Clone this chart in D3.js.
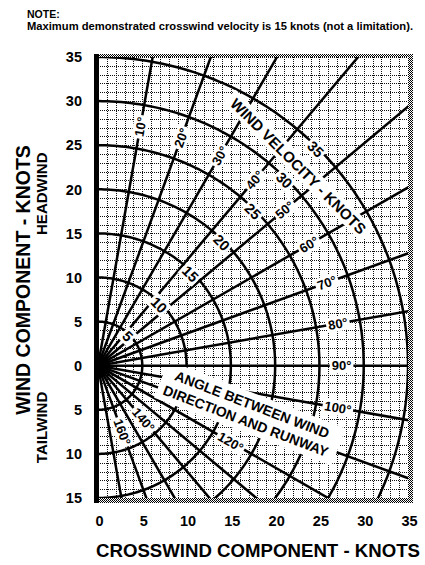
<!DOCTYPE html>
<html><head><meta charset="utf-8">
<script src="https://cdn.jsdelivr.net/npm/d3@7"></script>
<style>
body{margin:0;background:#fff}
svg{display:block}
text{font-family:"Liberation Sans",Arial,Helvetica,sans-serif;font-weight:bold;fill:#000}
</style>
</head><body>
<svg id="c" width="425" height="565"></svg>
<script>
// ---- data ----
const xTickValues = [0, 5, 10, 15, 20, 25, 30, 35];
const xTickLabels = ["0", "5", "10", "15", "20", "25", "30", "35"];
const yTickValues = [35, 30, 25, 20, 15, 10, 5, 0, -5, -10, -15];
const yTickLabels = ["35", "30", "25", "20", "15", "10", "5", "0", "5", "10", "15"];
const windSpeeds = [5, 10, 15, 20, 25, 30, 35];
const radialAngles = [10, 20, 30, 40, 50, 60, 70, 80, 90, 100, 110, 120, 130, 140, 150, 160, 170];
const angleLabelValues = [10, 20, 30, 40, 50, 60, 70, 80, 90, 100, 120, 140, 160];
const noteLines = ["NOTE:", "Maximum demonstrated crosswind velocity is 15 knots (not a limitation)."];
const velocityTitle = "WIND VELOCITY - KNOTS";
const angleTitleLines = ["ANGLE BETWEEN WIND", "DIRECTION AND RUNWAY"];
const xTitle = "CROSSWIND COMPONENT - KNOTS";
const yTitle = "WIND COMPONENT - KNOTS";
const headLabel = "HEADWIND", tailLabel = "TAILWIND";

// ---- layout ----
const svg = d3.select("#c");
const x = d3.scaleLinear().domain([0, 35]).range([98, 408]);
const y = d3.scaleLinear().domain([-15, 35]).range([498, 57]);
const rad = a => a * Math.PI / 180;
const polar = (r, a) => [x(r * Math.sin(rad(a))), y(r * Math.cos(rad(a)))];

const defs = svg.append("defs");
defs.append("clipPath").attr("id", "plot").append("rect")
  .attr("x", x(0)).attr("y", y(35)).attr("width", x(35) - x(0)).attr("height", y(-15) - y(35));
defs.append("clipPath").attr("id", "below0").append("rect")
  .attr("x", x(0)).attr("y", y(0) + 1.3).attr("width", x(35) - x(0)).attr("height", y(-15) - y(0));
const pat = defs.append("pattern").attr("id", "hatch").attr("width", 2).attr("height", 2)
  .attr("patternUnits", "userSpaceOnUse");
pat.append("rect").attr("width", 2).attr("height", 2).attr("fill", "#fff");
pat.append("rect").attr("width", 1).attr("height", 1).attr("fill", "#000");
pat.append("rect").attr("x", 1).attr("y", 1).attr("width", 1).attr("height", 1).attr("fill", "#000");

const plot = svg.append("g").attr("clip-path", "url(#plot)");

// grid (1 knot)
const gx = d3.range(0, 36), gy = d3.range(-15, 36);
const grid = plot.append("g").attr("stroke", "#111").attr("stroke-width", 1)
  .attr("stroke-dasharray", "1,1").attr("shape-rendering", "crispEdges");
grid.selectAll("line.v").data(gx).join("line").attr("class", "v")
  .attr("x1", d => Math.round(x(d)) + 0.5).attr("x2", d => Math.round(x(d)) + 0.5)
  .attr("y1", y(35)).attr("y2", y(-15));
grid.selectAll("line.h").data(gy).join("line").attr("class", "h")
  .attr("y1", d => Math.round(y(d)) + 0.5).attr("y2", d => Math.round(y(d)) + 0.5)
  .attr("x1", x(0)).attr("x2", x(35));

// arcs (wind velocity)
const arcSteps = d3.range(0, 180.5, 1);
const lineGen = d3.line();
plot.append("g").selectAll("path").data(windSpeeds).join("path")
  .attr("d", r => lineGen(arcSteps.map(a => polar(r, a))))
  .attr("fill", "none").attr("stroke", "#000").attr("stroke-width", 2.5);

// radials (angle)
plot.append("g").selectAll("line").data(radialAngles).join("line")
  .attr("x1", x(0)).attr("y1", y(0))
  .attr("x2", a => polar(60, a)[0]).attr("y2", a => polar(60, a)[1])
  .attr("stroke", "#000").attr("stroke-width", 2.5);

// labels with white backgrounds
const labels = svg.append("g");
function addLabel(parent, cx, cy, rot, str, size, padX, padY) {
  const g = parent.append("g").attr("transform", `translate(${cx},${cy}) rotate(${rot})`);
  const rect = g.append("rect").attr("fill", "#fff");
  const t = g.append("text").attr("text-anchor", "middle").attr("dy", "0.36em")
    .attr("font-size", size).text(str);
  const b = t.node().getBBox();
  rect.attr("x", b.x - padX).attr("y", b.y - padY + 1)
    .attr("width", b.width + 2 * padX).attr("height", b.height + 2 * padY - 2);
  return g;
}

// angle label radii (layout)
const angleLabelR = a => a <= 100 ? 27.5 : (a === 120 ? 17.3 : 8.0);
angleLabelValues.forEach(a => {
  const [px, py] = polar(angleLabelR(a), a);
  addLabel(labels, px, py, a - 90, a + "°", 13, 2, 1);
});
windSpeeds.forEach(r => {
  const [px, py] = polar(r - 0.25, 45);
  addLabel(labels, px, py, 45, String(r), 14.5, 2, 1);
});
{
  const [px, py] = polar(32, 45);
  addLabel(labels, px, py, 45, velocityTitle, 15, 6, 2);
}

// angle title box
{
  const cx = x(17.05), cy = y(-5.33);
  const box = svg.append("g").attr("clip-path", "url(#below0)")
    .append("g").attr("transform", `translate(${cx},${cy}) rotate(21)`);
  box.append("rect").attr("x", -94).attr("y", -20).attr("width", 190).attr("height", 40).attr("fill", "#fff");
  box.selectAll("text").data(angleTitleLines).join("text")
    .attr("text-anchor", "middle").attr("font-size", 14).attr("dy", "0.36em")
    .attr("y", (d, i) => (i - 0.5) * 17.6).text(d => d);
}

// borders
const bord = svg.append("g").attr("shape-rendering", "crispEdges");
bord.append("rect").attr("x", x(0) - 4).attr("y", y(35) - 3.5).attr("width", x(35) + 5 - x(0) + 4).attr("height", 3.5).attr("fill", "url(#hatch)");
bord.append("rect").attr("x", x(35)).attr("y", y(35) - 3.5).attr("width", 5).attr("height", y(-15) - y(35) + 8.5).attr("fill", "url(#hatch)");
bord.append("rect").attr("x", x(0) - 4).attr("y", y(-15)).attr("width", x(35) + 5 - x(0) + 4).attr("height", 5).attr("fill", "url(#hatch)");
bord.append("rect").attr("x", x(0) - 4).attr("y", y(35) - 3.5).attr("width", 5).attr("height", y(-15) - y(35) + 8.5).attr("fill", "#000");

// axis tick labels
svg.append("g").selectAll("text").data(yTickValues).join("text")
  .attr("x", 82).attr("y", d => y(d)).attr("dy", "0.36em").attr("text-anchor", "end")
  .attr("font-size", 14.5).text((d, i) => yTickLabels[i]);
svg.append("g").selectAll("text").data(xTickValues).join("text")
  .attr("x", d => x(d) + 1.5).attr("y", 526).attr("text-anchor", "middle")
  .attr("font-size", 14.5).text((d, i) => xTickLabels[i]);

// titles
svg.append("text").attr("x", 258).attr("y", 557).attr("text-anchor", "middle")
  .attr("font-size", 18.5).attr("textLength", 324).attr("lengthAdjust", "spacingAndGlyphs").text(xTitle);
svg.append("text").attr("transform", "translate(23,280) rotate(-90)").attr("text-anchor", "middle")
  .attr("dy", "0.36em").attr("font-size", 19.5).text(yTitle);
svg.append("text").attr("transform", `translate(42,${y(19.5)}) rotate(-90)`).attr("text-anchor", "middle")
  .attr("dy", "0.36em").attr("font-size", 15).text(headLabel);
svg.append("text").attr("transform", `translate(42,${y(-7)}) rotate(-90)`).attr("text-anchor", "middle")
  .attr("dy", "0.36em").attr("font-size", 15).text(tailLabel);

// note
svg.append("text").attr("x", 27).attr("y", 18).attr("font-size", 10.5).text(noteLines[0]);
svg.append("text").attr("x", 27).attr("y", 29.5).attr("font-size", 10.5)
  .attr("textLength", 386).attr("lengthAdjust", "spacingAndGlyphs").text(noteLines[1]);
</script>
</body></html>
